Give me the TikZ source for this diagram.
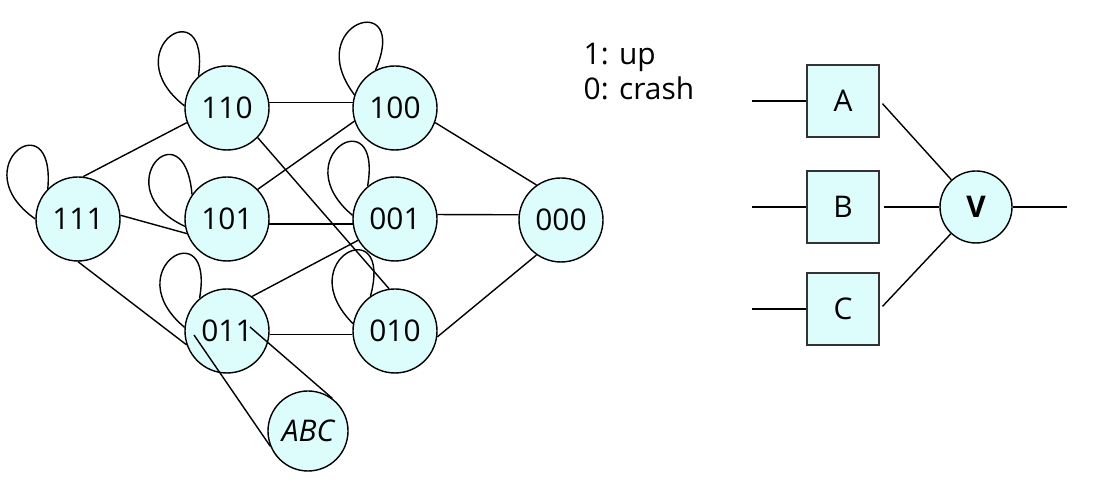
\documentclass[tikz,border=0pt]{standalone}
\usepackage{fontspec}
\setmainfont{Open Sans}
\definecolor{statefill}{RGB}{221,253,253}

\begin{document}
\begin{tikzpicture}[line width=0.4pt,
    state/.style={circle, draw, fill=statefill, minimum size=8.4mm, inner sep=0pt, font=\fontsize{8.5}{10}\selectfont},
    unit/.style={rectangle, draw=black!80, line width=0.6pt, fill=statefill, minimum size=7.2mm, inner sep=0pt, font=\fontsize{8.5}{10}\selectfont},
    selfloop/.style={distance=9mm}]
    \useasboundingbox(0,0) rectangle (11,-4.86);
    % states of the three units
    \node[state](s111) at (0.78,-2.19){111};
    \node[state](s110) at (2.27,-1.08){110};
    \node[state](s101) at (2.27,-2.19){101};
    \node[state](s011) at (2.27,-3.31){011};
    \node[state](s100) at (3.95,-1.08){100};
    \node[state](s001) at (3.95,-2.19){001};
    \node[state](s010) at (3.95,-3.31){010};
    \node[state](s000) at (5.61,-2.20){000};
    \node[state, minimum size=8mm, font=\fontsize{8.5}{10}\selectfont\itshape](sABC) at (3.08,-4.31){ABC};
    % self loops
    \foreach \s/\a in {s111/180, s110/177, s100/162, s101/190, s001/175, s011/175, s010/170}{
        \pgfmathtruncatemacro\b{\a-45}
        \pgfmathtruncatemacro\o{\a-35}
        \pgfmathtruncatemacro\c{\a-95}
        \draw(\s.\a) to[out=\o, in=\c, selfloop](\s.\b);
    }
    % transitions
    \draw(s111.83)--(s110.200);
    \draw(s111.5)--(s101.200);
    \draw(s111.270)--(s011.199);
    \draw(s110.7)--(s100.173);
    \draw(s110.316)--(s010.98);
    \draw(s101.44)--(s100.198);
    \draw(s101.353)--(s001.187);
    \draw(s011.54)--(s001.210);
    \draw(s011.355)--(s010.185);
    \draw(s100.340)--(s000.125);
    \draw(s001.6)--(s000.173);
    \draw(s010.352)--(s000.235);
    \coordinate(c1) at ([shift={(-0.33,-0.04)}]s011.center);
    \coordinate(c2) at ([shift={(0.23,0.04)}]s011.center);
    \draw(c1)--(sABC.202);
    \draw(c2)--(sABC.53);
    % legend
    \node[anchor=base west, inner sep=0pt, font=\fontsize{8.5}{10}\selectfont](up) at (5.83,-0.65){1: up};
    \node[anchor=base west, inner sep=0pt, font=\fontsize{8.5}{10}\selectfont](crash) at (5.83,-1.00){0: crash};
    % voter
    \node[unit](A) at (8.43,-1.01){A};
    \node[unit](B) at (8.43,-2.07){B};
    \node[unit](C) at (8.43,-3.09){C};
    \node[state, minimum size=7.2mm, font=\fontsize{8.5}{10}\selectfont\bfseries](V) at (9.76,-2.07){V};
    \coordinate(inA) at (7.52,-1.01);
    \coordinate(inB) at (7.52,-2.07);
    \coordinate(inC) at (7.52,-3.09);
    \coordinate(out) at (10.67,-2.07);
    \draw(inA)--(A);
    \draw(inB)--(B);
    \draw(inC)--(C);
    \draw[shorten <=1pt](A.east)--(V);
    \draw[shorten <=1pt](B)--(V);
    \draw[shorten <=1pt](C.east)--(V);
    \draw(V)--(out);
\end{tikzpicture}
\end{document}
